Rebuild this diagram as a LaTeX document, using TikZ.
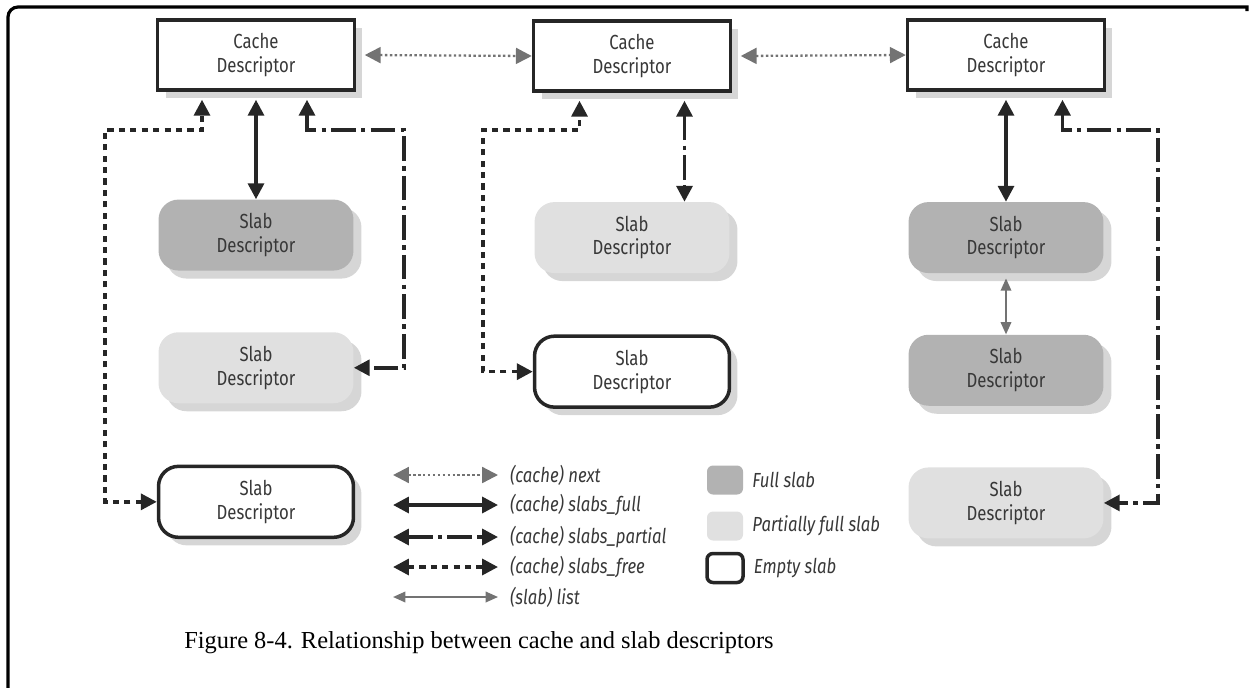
\documentclass[tikz,border=0pt]{standalone}
\usepackage{fontspec}
\setmainfont{Liberation Serif}
\newfontfamily\diagfont{Fira Sans}[FakeStretch=0.82]
\usetikzlibrary{arrows.meta, positioning, shadows}

\definecolor{fullgray}{gray}{0.70}
\definecolor{partgray}{gray}{0.88}
\definecolor{textgray}{gray}{0.22}
\definecolor{ptrgray}{gray}{0.45}

\begin{document}
\begin{tikzpicture}[
            x=0.02cm, y=-0.02cm,
            node distance=1.22cm,
            every node/.style={font=\diagfont\fontsize{11.6}{13.6}\selectfont, text=textgray},
            cachebox/.style={
                rectangle,
                draw=black!85,
                line width=2pt,
                fill=white,
                align=center,
                minimum width=3.94cm,
                minimum height=1.4cm,
                drop shadow={shadow xshift=0.16cm, shadow yshift=-0.16cm, fill=black!32}
            },
            slab/.style={
                rectangle,
                rounded corners=0.4cm,
                align=center,
                minimum width=3.9cm,
                minimum height=1.42cm,
                drop shadow={shadow xshift=0.16cm, shadow yshift=-0.16cm, fill=black!32}
            },
            fullslab/.style={slab, fill=fullgray},
            partslab/.style={slab, fill=partgray},
            emptyslab/.style={slab, fill=white, draw=black!85, line width=2pt},
            keybox/.style={
                rectangle,
                rounded corners=0.12cm,
                minimum width=0.72cm,
                minimum height=0.58cm
            },
            lgtext/.style={font=\diagfont\itshape\fontsize{11.6}{13.6}\selectfont, inner sep=1pt, anchor=west},
            ptr/.style={<->, >={Triangle[length=9pt,width=9pt]}, line width=2pt, draw=black!85},
            fullptr/.style={ptr},
            partptr/.style={ptr, dash pattern=on 14pt off 3pt on 2.5pt off 3pt},
            freeptr/.style={ptr, dash pattern=on 3.5pt off 3pt},
            nextptr/.style={ptr, draw=ptrgray, line width=1.3pt, dash pattern=on 1.4pt off 1.4pt},
            listptr/.style={<->, >={Triangle[length=7pt,width=6pt]}, line width=1pt, draw=ptrgray}
        ]
        \useasboundingbox (0,0) rectangle (1250,687);

        % Frame
        \draw[line width=1.8pt] (8,690) [rounded corners=0.2cm] -- (8,7) [sharp corners] -- (1247,7) -- (1247,11);

        % Nodes
        \node[cachebox] (c1) at (256,55) {Cache\\Descriptor};
        \node[cachebox] (c2) at (632,56) {Cache\\Descriptor};
        \node[cachebox] (c3) at (1006,55) {Cache\\Descriptor};

        \node[fullslab, below=2.15cm of c1] (s1a) {Slab\\Descriptor};
        \node[partslab, below=of s1a] (s1b) {Slab\\Descriptor};
        \node[emptyslab, below=of s1b] (s1c) {Slab\\Descriptor};

        \node[partslab, below=2.18cm of c2] (s2a) {Slab\\Descriptor};
        \node[emptyslab, below=of s2a] (s2b) {Slab\\Descriptor};

        \node[fullslab, below=2.2cm of c3] (s3a) {Slab\\Descriptor};
        \node[fullslab, below=of s3a] (s3b) {Slab\\Descriptor};
        \node[partslab, below=of s3b] (s3c) {Slab\\Descriptor};

        % Arrows
        \draw[nextptr] ([xshift=0.17cm]c1.east) -- (c2.west);
        \draw[nextptr] ([xshift=0.17cm]c2.east) -- (c3.west);

        \draw[fullptr] ([yshift=-0.16cm]c1.south) -- (s1a.north);
        \draw[freeptr] (s1c.west) -| (105,130) -| ([xshift=-1.08cm,yshift=-0.16cm]c1.south);
        \draw[partptr] ([xshift=1.02cm,yshift=-0.16cm]c1.south) |- (404,130) |- (s1b.east);

        \draw[freeptr] (s2b.west) -| (483,130) -| ([xshift=-1.05cm,yshift=-0.16cm]c2.south);
        \draw[partptr] ([xshift=1.05cm,yshift=-0.16cm]c2.south) -- ([xshift=1.05cm]s2a.north);

        \draw[fullptr] ([yshift=-0.16cm]c3.south) -- (s3a.north);
        \draw[partptr] ([xshift=1.13cm,yshift=-0.16cm]c3.south) |- (1158,130) |- (s3c.east);
        \draw[listptr] ([yshift=-0.1cm]s3a.south) -- (s3b.north);

        % Legend
        \node[lgtext] (lgnext) at (508,475) {(cache) next};
        \node[lgtext] (lgfull) at (508,505) {(cache) slabs\_full};
        \node[lgtext] (lgpart) at (508,537) {(cache) slabs\_partial};
        \node[lgtext] (lgfree) at (508,567) {(cache) slabs\_free};
        \node[lgtext] (lglist) at (508,597) {(slab) list};

        \draw[nextptr] ([xshift=-2.3cm]lgnext.west) -- ([xshift=-0.2cm]lgnext.west);
        \draw[fullptr] ([xshift=-2.3cm]lgfull.west) -- ([xshift=-0.2cm]lgfull.west);
        \draw[partptr] ([xshift=-2.3cm]lgpart.west) -- ([xshift=-0.2cm]lgpart.west);
        \draw[freeptr] ([xshift=-2.3cm]lgfree.west) -- ([xshift=-0.2cm]lgfree.west);
        \draw[listptr] ([xshift=-2.3cm]lglist.west) -- ([xshift=-0.2cm]lglist.west);

        \node[keybox, fill=fullgray] (keyfull) at (725,480) {};
        \node[keybox, fill=partgray] (keypart) at (725,526) {};
        \node[keybox, draw=black!85, line width=2pt] (keyempty) at (725,568) {};
        \node[lgtext, right=0.14cm of keyfull] {Full slab};
        \node[lgtext, right=0.14cm of keypart] {Partially full slab};
        \node[lgtext, right=0.14cm of keyempty] {Empty slab};

        % Caption
        \node[font=\rmfamily\fontsize{13.9}{16}\selectfont, text=black] (caption) at (479,643)
            {Figure 8-4. Relationship between cache and slab descriptors};
\end{tikzpicture}
\end{document}
